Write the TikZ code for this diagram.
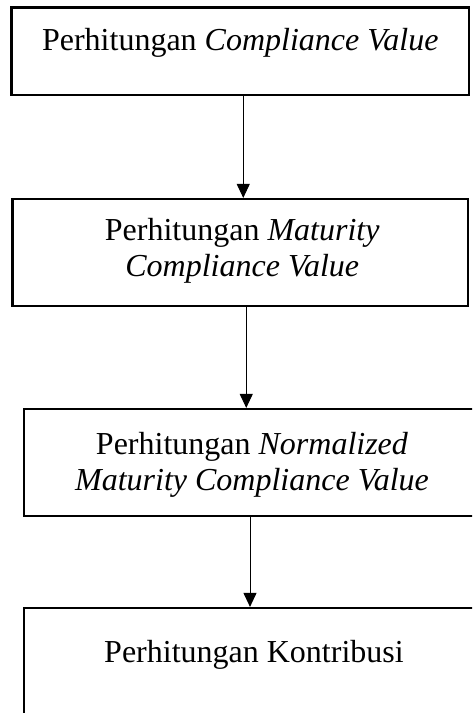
\documentclass[tikz,border=0pt]{standalone}
\usepackage{fontspec}
\setmainfont{Liberation Serif}
\usetikzlibrary{positioning,arrows.meta}

\begin{document}
\begin{tikzpicture}[x=1pt,y=-1pt,
    box/.style={shape=rectangle,draw=black,line width=2.2pt,inner sep=0pt},
    txt/.style={align=center,inner sep=0pt,font=\fontsize{32}{36.5}\selectfont},
    arrow/.style={-{Triangle[length=14pt,width=13pt]},line width=1pt}]
    \useasboundingbox (0,0) rectangle (472,713);
    \clip (0,0) rectangle (472,713);

    %step 1
    \node[box,minimum width=457.5pt,minimum height=87.5pt] (b1) at (240.25,51.25) {};
    \node[txt,below=22pt of b1.north] (t1) {Perhitungan \textit{Compliance Value}};
    %step 2
    \node[box,minimum width=455.5pt,minimum height=107pt] (b2) at (240.25,252.5) {};
    \node[txt,below=20pt of b2.north,xshift=2pt] (t2) {Perhitungan \textit{Maturity}\\\textit{Compliance Value}};
    %step 3
    \node[box,minimum width=456pt,minimum height=107pt] (b3) at (252,462.5) {};
    \node[txt,below=24pt of b3.north] (t3) {Perhitungan \textit{Normalized}\\\textit{Maturity Compliance Value}};
    %step 4
    \node[box,minimum width=460pt,minimum height=108pt] (b4) at (254,662) {};
    \node[txt,below=33pt of b4.north] (t4) {Perhitungan Kontribusi};

    \draw [arrow] ([xshift=3pt]b1.south) -- ([xshift=3pt]b1.south |- b2.north);
    \draw [arrow] ([xshift=6pt]b2.south) -- ([xshift=6pt]b2.south |- b3.north);
    \draw [arrow] ([xshift=-2pt]b3.south) -- ([xshift=-2pt]b3.south |- b4.north);
\end{tikzpicture}
\end{document}
